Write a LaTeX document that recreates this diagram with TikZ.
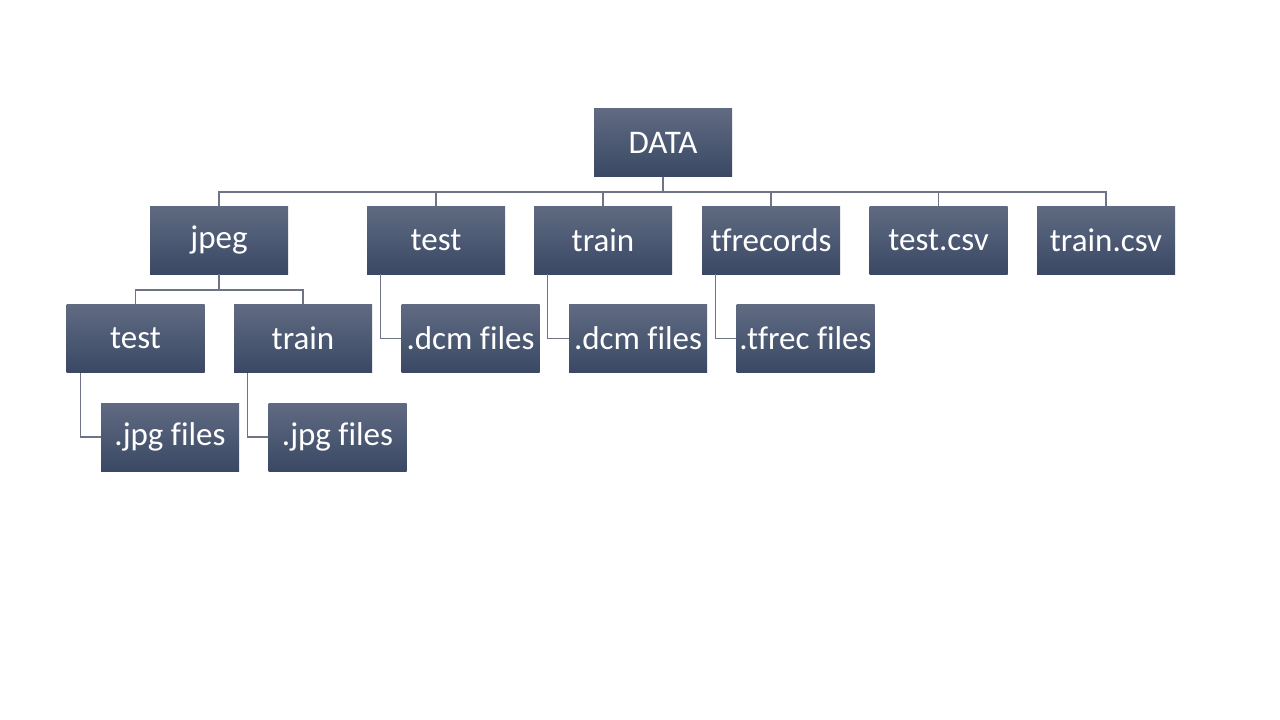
\documentclass[tikz,border=0pt]{standalone}
\usepackage{fontspec}
\setmainfont[Ligatures=CommonOff]{Carlito}
\begin{document}
\begin{tikzpicture}[x=1pt,y=-1pt,
  box/.style={rectangle, minimum width=138pt, minimum height=68pt, inner sep=0pt,
    top color=boxtop, bottom color=boxbot, draw=none, text=white, font=\fontsize{33}{38}\selectfont},
  conn/.style={draw=linec, line width=1.3pt}]
\definecolor{boxtop}{HTML}{606B82}
\definecolor{boxbot}{HTML}{3A4864}
\definecolor{linec}{HTML}{6E7486}
\useasboundingbox (0,0) rectangle (1280,720);
\fill[white] (0,0) rectangle (1280,720);
% nodes
\node[box] (data) at (663,142.5) {DATA};
\node[box] (jpeg) at (219,240) {jpeg};
\node[box] (test) at (436,240) {test};
\node[box] (train) at (603,240) {train};
\node[box] (tfr) at (771,240) {tfrecords};
\node[box] (testcsv) at (938.5,240) {test.csv};
\node[box] (traincsv) at (1106,240) {train.csv};
\node[box] (jtest) at (135.5,338.5) {test};
\node[box] (jtrain) at (303,338.5) {train};
\node[box] (dcm1) at (470.5,338.5) {.dcm files};
\node[box] (dcm2) at (638,338.5) {.dcm files};
\node[box] (tfrec) at (805.5,338.5) {.tfrec files};
\node[box] (jpg1) at (170,437) {.jpg files};
\node[box] (jpg2) at (337.5,437) {.jpg files};
% bus coordinates
\coordinate (bus) at (663,192);
\coordinate (jbus) at (219,290);
% top-level connectors
\foreach \c in {jpeg,test,train,tfr,testcsv,traincsv}{
  \draw[conn] (data.south) -- (bus) -| (\c.north);
}
\foreach \c in {jtest,jtrain}{
  \draw[conn] (jpeg.south) -- (jbus) -| (\c.north);
}
% elbow connectors
\draw[conn] ([xshift=14pt]test.south west) |- (dcm1.west);
\draw[conn] ([xshift=14pt]train.south west) |- (dcm2.west);
\draw[conn] ([xshift=14pt]tfr.south west) |- (tfrec.west);
\draw[conn] ([xshift=14pt]jtest.south west) |- (jpg1.west);
\draw[conn] ([xshift=14pt]jtrain.south west) |- (jpg2.west);
\end{tikzpicture}
\end{document}
